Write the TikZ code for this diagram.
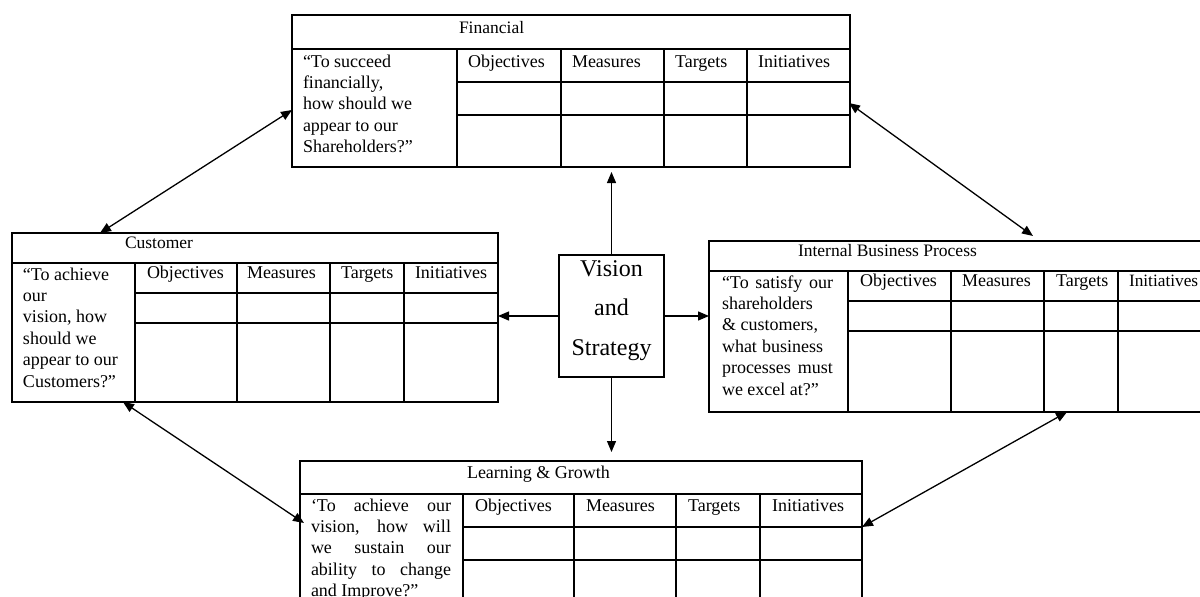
\documentclass[tikz,border=0pt]{standalone}
\usepackage{fontspec}
\setmainfont{Liberation Serif}
\usetikzlibrary{arrows.meta}
\newcommand\qfont{\fontsize{18}{21.4}\selectfont}
\newcommand\tfont{\fontsize{17.5}{20}\selectfont}
\newcommand\vfont{\fontsize{24}{39.5}\selectfont}
\tikzset{
  frame/.style={draw, line width=1.3pt, rectangle, inner sep=0pt, outer sep=0pt, anchor=north west},
  grid/.style={line width=1.3pt},
  qtext/.style={inner sep=0pt, outer sep=0pt, anchor=base west, font=\qfont},
  ttl/.style={inner sep=0pt, outer sep=0pt, anchor=base west, font=\tfont},
  oneway/.style={line width=1.3pt, -{Triangle[length=11pt,width=9pt]}},
  twoway/.style={line width=1.3pt, {Triangle[length=11pt,width=9pt]}-{Triangle[length=11pt,width=9pt]}}
}
\begin{document}
\begin{tikzpicture}[x=1pt,y=-1pt]
\useasboundingbox (0,0) rectangle (1200,597);
\clip (0,0) rectangle (1200,597);

% ---------------- Financial ----------------
\node[frame, minimum width=558pt, minimum height=152pt] (fin) at (292,15) {};
\draw[grid] (292,49) -- (850,49);
\foreach \x in {457,561,664,747} \draw[grid] (\x,49) -- (\x,167);
\foreach \y in {82,115} \draw[grid] (457,\y) -- (850,\y);
\node[ttl] (finT) at (459,33) {Financial};
\node[qtext] (finQ) at (303,67) {\parbox[t]{150pt}{\raggedright “To succeed\\financially,\\how should we\\appear to our\\Shareholders?”}};
\node[qtext] (finH1) at (468,67) {Objectives};
\node[qtext] (finH2) at (572,67) {Measures};
\node[qtext] (finH3) at (675,67) {Targets};
\node[qtext] (finH4) at (758,67) {Initiatives};

% ---------------- Customer ----------------
\node[frame, minimum width=486pt, minimum height=169pt] (cus) at (12,233) {};
\draw[grid] (12,263) -- (498,263);
\foreach \x in {135,237,330,404} \draw[grid] (\x,263) -- (\x,402);
\foreach \y in {293,323} \draw[grid] (135,\y) -- (498,\y);
\node[ttl] (cusT) at (125,248) {Customer};
\node[qtext] (cusQ) at (23,280) {\parbox[t]{110pt}{\raggedright “To achieve\\our\\vision, how\\should we\\appear to our\\Customers?”}};
\node[qtext] (cusH1) at (147,278) {Objectives};
\node[qtext] (cusH2) at (247,278) {Measures};
\node[qtext] (cusH3) at (341,278) {Targets};
\node[qtext] (cusH4) at (415,278) {Initiatives};

% ---------------- Internal Business Process ----------------
\node[frame, minimum width=510pt, minimum height=171pt] (int) at (709,241) {};
\draw[grid] (709,271) -- (1219,271);
\foreach \x in {848,951,1044,1118} \draw[grid] (\x,271) -- (\x,412);
\foreach \y in {301,331} \draw[grid] (848,\y) -- (1219,\y);
\node[ttl] (intT) at (798,256) {Internal Business Process};
\node[qtext] (intQ) at (722,288) {\parbox[t]{120pt}{\raggedright \makebox[111pt][s]{“To satisfy our}\\shareholders\\\& customers,\\\makebox[101pt][s]{what business}\\\makebox[111pt][s]{processes must}\\we excel at?”}};
\node[qtext] (intH1) at (860,286) {Objectives};
\node[qtext] (intH2) at (962,286) {Measures};
\node[qtext] (intH3) at (1056,286) {Targets};
\node[qtext, font=\fontsize{17.3}{20}\selectfont] (intH4) at (1129,286) {Initiatives};

% ---------------- Learning & Growth ----------------
\node[frame, minimum width=562pt, minimum height=180pt] (lg) at (300,461) {};
\draw[grid] (300,494) -- (862,494);
\foreach \x in {463,574,676,760} \draw[grid] (\x,494) -- (\x,641);
\foreach \y in {527,560} \draw[grid] (463,\y) -- (862,\y);
\node[ttl, font=\fontsize{18}{20}\selectfont] (lgT) at (467,478) {Learning \& Growth};
\node[qtext] (lgQ) at (311,511) {\parbox[t]{140pt}{\raggedright \makebox[140pt][s]{‘To achieve our}\\\makebox[140pt][s]{vision, how will}\\\makebox[140pt][s]{we sustain our}\\\makebox[140pt][s]{ability to change}\\and Improve?”}};
\node[qtext] (lgH1) at (475,511) {Objectives};
\node[qtext] (lgH2) at (586,511) {Measures};
\node[qtext] (lgH3) at (688,511) {Targets};
\node[qtext] (lgH4) at (772,511) {Initiatives};

% ---------------- Vision and Strategy ----------------
\node[frame, minimum width=105pt, minimum height=122pt] (vis) at (559,255) {};
\node[inner sep=0pt, anchor=base, font=\vfont] (visT) at (611.5,276) {\parbox[t]{100pt}{\centering Vision\\and\\Strategy}};

% ---------------- connectors ----------------
\draw[oneway, shorten >=5pt] (vis.north) -- (vis.north |- fin.south);
\draw[oneway, shorten >=9pt] (vis.south) -- (vis.south |- lg.north);
\draw[oneway] (vis.west) -- (vis.west -| cus.east);
\draw[oneway] (vis.east) -- (vis.east -| int.west);

\coordinate (finW) at (292,110);
\coordinate (cusN) at (100,233);
\coordinate (finE) at (849,103);
\coordinate (intN) at (1033,236);
\coordinate (cusS) at (123,402);
\coordinate (lgW) at (304,523);
\coordinate (intS) at (1067,412);
\coordinate (lgE) at (862,527);
\draw[twoway] (finW) -- (cusN);
\draw[twoway] (finE) -- (intN);
\draw[twoway] (cusS) -- (lgW);
\draw[twoway] (intS) -- (lgE);
\end{tikzpicture}
\end{document}
